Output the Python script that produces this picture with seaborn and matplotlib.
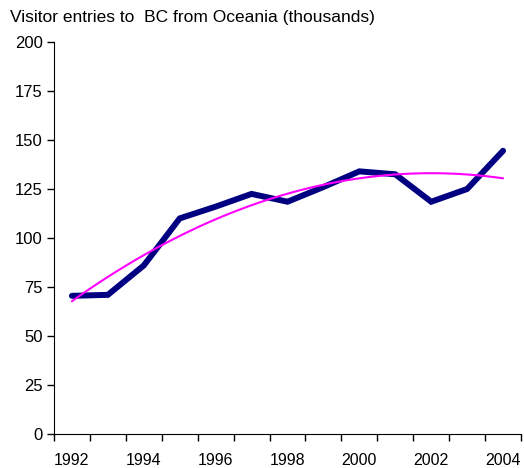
import numpy as np
import pandas as pd
import matplotlib
matplotlib.use("Agg")
import matplotlib.pyplot as plt
import seaborn as sns

# Visitor entries to BC from Oceania (thousands)
years = [1992, 1993, 1994, 1995, 1996, 1997, 1998, 1999, 2000, 2001, 2002, 2003, 2004]
visitors = [70.5, 71, 86, 110, 116, 122.5, 118.5, 126, 134, 132.5, 118.5, 125, 144.5]
y_ticks = [0, 25, 50, 75, 100, 125, 150, 175, 200]

df = pd.DataFrame({"pos": np.arange(len(years)), "year": years, "visitors": visitors})

sns.set_style("white")
plt.rcParams["font.family"] = ["Liberation Sans", "DejaVu Sans"]
plt.rcParams["text.color"] = "black"
plt.rcParams["xtick.color"] = "black"
plt.rcParams["ytick.color"] = "black"

fig = plt.figure(figsize=(5.24, 4.68), dpi=100)
ax = fig.add_axes([0.103, 0.0726, 0.8913, 0.8377])

sns.lineplot(data=df, x="pos", y="visitors", ax=ax, color="#000080",
             linewidth=4.3, solid_capstyle="round", solid_joinstyle="miter")
# polynomial (order 2) trend line
sns.regplot(data=df, x="pos", y="visitors", ax=ax, order=2, ci=None,
            scatter=False, line_kws={"color": "#FF00FF", "linewidth": 1.5})

ax.set_xlim(-0.5, len(years) - 0.5)
ax.set_ylim(0, 200)
ax.set_yticks(y_ticks)
# tick marks at category boundaries, labels at every other category centre
ax.set_xticks(np.arange(-0.5, len(years)))
ax.set_xticklabels([])
ax.set_xticks(list(df["pos"][::2]), minor=True)
ax.set_xticklabels([str(y) for y in years[::2]], minor=True)
ax.tick_params(axis="x", which="major", bottom=True, length=5, width=1.0, direction="out")
ax.tick_params(axis="x", which="minor", bottom=True, length=0, pad=14, labelsize=11.5)
ax.tick_params(axis="y", left=True, length=5, width=1.0, direction="out", labelsize=12, pad=3)
ax.set_xlabel("")
ax.set_ylabel("")

for s in ["top", "right"]:
    ax.spines[s].set_visible(False)
for s in ["left", "bottom"]:
    ax.spines[s].set_color("black")
    ax.spines[s].set_linewidth(0.8)

fig.text(0.019, 0.962, "Visitor entries to  BC from Oceania (thousands)",
         fontsize=12.5, ha="left", va="center")

fig.savefig("out.png", dpi=100)
plt.close(fig)
